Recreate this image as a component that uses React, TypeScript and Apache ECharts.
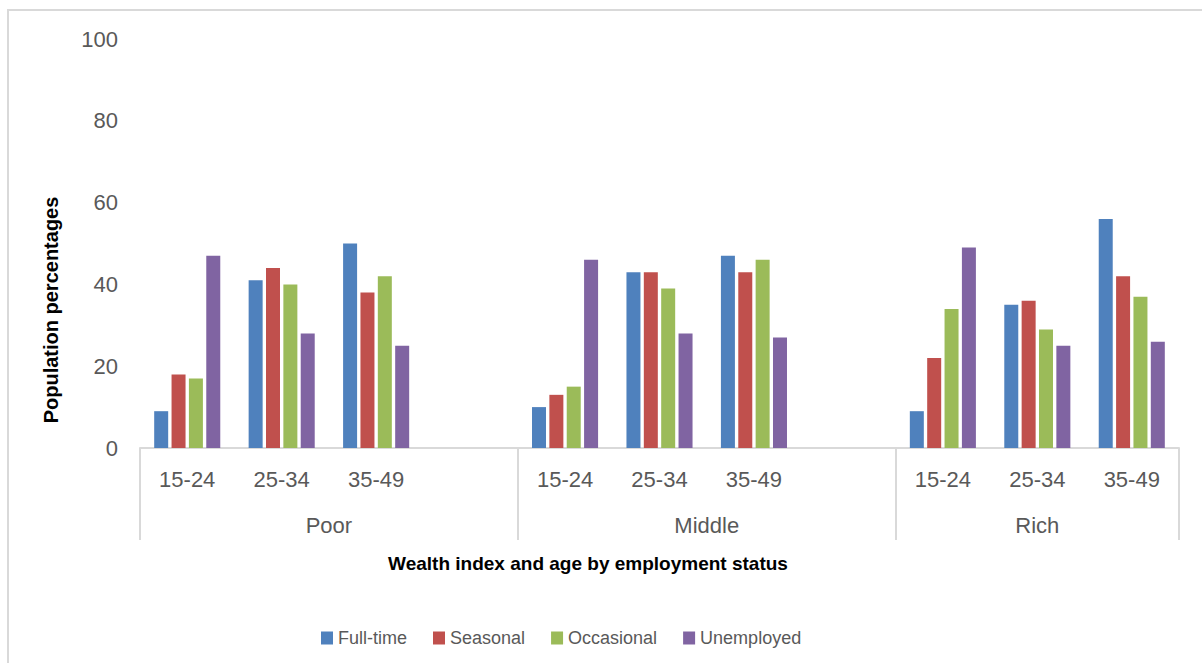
import React, { useEffect, useRef } from "react";
import * as echarts from "echarts";

const ageLabels = ["15-24", "25-34", "35-49", "", "15-24", "25-34", "35-49", "", "15-24", "25-34", "35-49"];
// half-slot positions used for group labels / dividers (23 points, -0.5 .. 10.5)
const groupSlots = [
  "", "", "", "", "Poor", "", "", "", "",
  "", "", "", "Middle", "", "", "",
  "", "", "", "Rich", "", "", "",
];
const dividerIdx = [0, 8, 16, 22];

const seriesNames = ["Full-time", "Seasonal", "Occasional", "Unemployed"];
const fullTime = [9, 41, 50, null, 10, 43, 47, null, 9, 35, 56];
const seasonal = [18, 44, 38, null, 13, 43, 43, null, 22, 36, 42];
const occasional = [17, 40, 42, null, 15, 39, 46, null, 34, 29, 37];
const unemployed = [47, 28, 25, null, 46, 28, 27, null, 49, 25, 26];
const colors = ["#4F81BD", "#C0504D", "#9BBB59", "#8064A2"];

const yTitle = "Population percentages";
const xTitle = "Wealth index and age by employment status";

const FONT = "'Liberation Sans', Arial, sans-serif";

export default function App() {
  const ref = useRef<HTMLDivElement>(null);
  useEffect(() => {
    if (!ref.current) return;
    const chart = echarts.init(ref.current, undefined, { renderer: "svg" });
    const values = [fullTime, seasonal, occasional, unemployed];
    chart.setOption({
      animation: false,
      backgroundColor: "#ffffff",
      textStyle: { fontFamily: FONT },
      grid: { left: 140, right: 23, top: 39, bottom: 215, containLabel: false },
      legend: {
        data: seriesNames,
        left: 316,
        top: 624,
        itemWidth: 12,
        itemHeight: 13,
        itemGap: 26,
        icon: "rect",
        textStyle: { fontSize: 18, color: "#595959", fontFamily: FONT },
      },
      xAxis: [
        {
          type: "category",
          data: ageLabels,
          position: "bottom",
          axisLine: { show: true, lineStyle: { color: "#D9D9D9", width: 2 } },
          axisTick: { show: false },
          axisLabel: { interval: 0, fontSize: 22, color: "#595959", margin: 20, fontFamily: FONT },
        },
        {
          type: "category",
          data: groupSlots,
          boundaryGap: false,
          position: "bottom",
          axisLine: { show: false },
          axisTick: {
            show: true,
            length: 92,
            interval: (idx: number) => dividerIdx.includes(idx),
            lineStyle: { color: "#D9D9D9", width: 2 },
          },
          axisLabel: { interval: 0, fontSize: 22, color: "#595959", margin: 66, fontFamily: FONT },
        },
      ],
      yAxis: {
        type: "value",
        min: 0,
        max: 100,
        interval: 20,
        axisLine: { show: false },
        axisTick: { show: false },
        splitLine: { show: false },
        axisLabel: { fontSize: 22, color: "#595959", margin: 22, fontFamily: FONT },
      },
      series: seriesNames.map((name, i) => ({
        name,
        type: "bar",
        xAxisIndex: 0,
        data: values[i],
        barWidth: 14,
        barGap: "24%",
        itemStyle: { color: colors[i] },
      })),
      graphic: [
        {
          type: "rect",
          shape: { x: 8, y: 10, width: 1200, height: 660 },
          style: { fill: "none", stroke: "#D9D9D9", lineWidth: 2 },
          silent: true,
          z: -10,
        },
        {
          type: "text",
          x: 51,
          y: 310,
          rotation: Math.PI / 2,
          style: {
            text: yTitle,
            fontSize: 20,
            fontWeight: "bold",
            fill: "#000000",
            fontFamily: FONT,
            textAlign: "center",
            textVerticalAlign: "middle",
          },
        },
        {
          type: "text",
          x: 588,
          y: 563,
          style: {
            text: xTitle,
            fontSize: 19,
            fontWeight: "bold",
            fill: "#000000",
            fontFamily: FONT,
            textAlign: "center",
            textVerticalAlign: "middle",
          },
        },
      ],
    });
    return () => chart.dispose();
  }, []);
  return (
    <div
      ref={ref}
      style={{ position: "fixed", left: 0, top: 0, width: 1202, height: 663, background: "#fff" }}
    />
  );
}
